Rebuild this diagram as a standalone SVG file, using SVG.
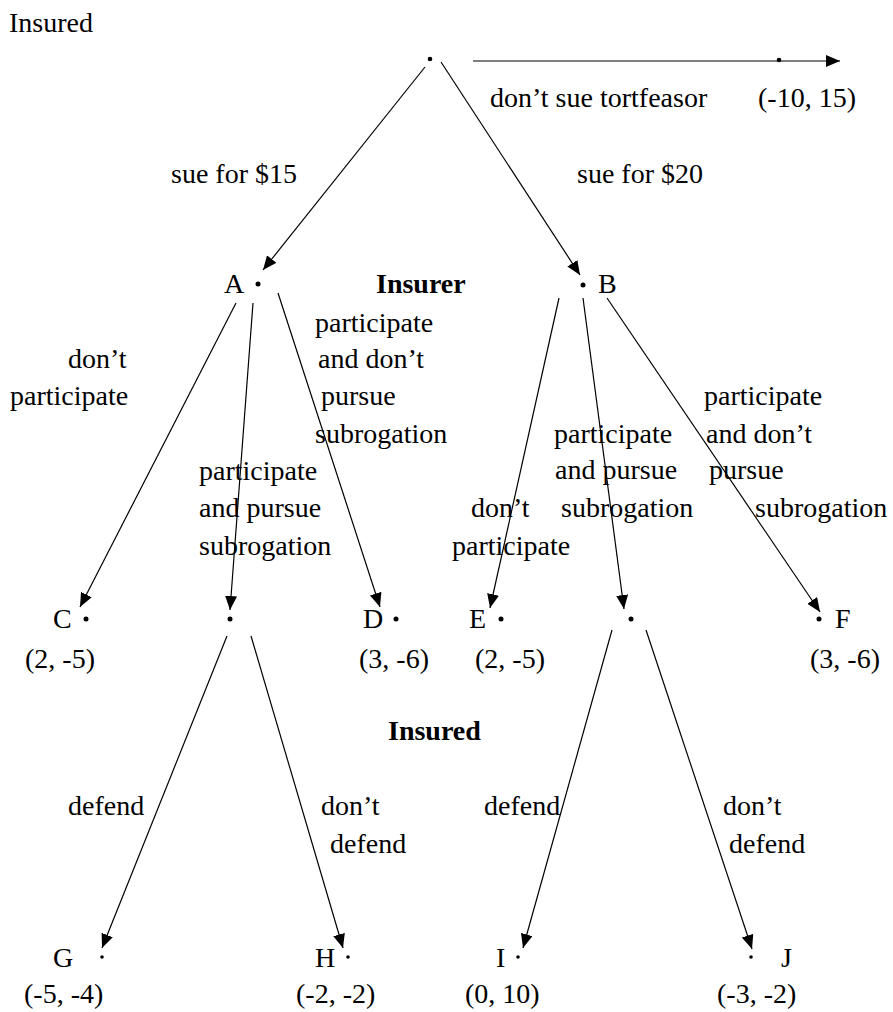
<svg xmlns="http://www.w3.org/2000/svg" width="893" height="1012" viewBox="0 0 893 1012">
<defs>
<marker id="ah" markerUnits="userSpaceOnUse" markerWidth="14" markerHeight="12" refX="14" refY="6" orient="auto" viewBox="0 0 14 12">
<path d="M0,0 L14,6 L0,12 z" fill="#000"/>
</marker>
</defs>
<rect width="893" height="1012" fill="#fff"/>
<text x="9" y="32" font-family="Liberation Serif" font-size="28">Insured</text>
<text x="376" y="293" font-family="Liberation Serif" font-size="28" font-weight="bold">Insurer</text>
<text x="388" y="740" font-family="Liberation Serif" font-size="28" font-weight="bold">Insured</text>
<g id="connectors" stroke="#000" stroke-width="1.2" fill="none" marker-end="url(#ah)">
<line x1="473" y1="61" x2="840" y2="61"/>
<line x1="425" y1="67" x2="263" y2="270"/>
<line x1="441" y1="62" x2="580" y2="275"/>
<line x1="236" y1="303" x2="80" y2="607"/>
<line x1="253" y1="303" x2="230" y2="610"/>
<line x1="278" y1="293" x2="380" y2="607"/>
<line x1="559" y1="298" x2="490" y2="608"/>
<line x1="583" y1="298" x2="624" y2="609"/>
<line x1="607" y1="298" x2="820" y2="612"/>
<line x1="227" y1="636" x2="102" y2="948"/>
<line x1="251" y1="636" x2="343" y2="948"/>
<line x1="612" y1="630" x2="523" y2="948"/>
<line x1="646" y1="630" x2="752" y2="949"/>
</g>
<g id="edge-labels" fill="#000">
<text x="490" y="107" font-family="Liberation Serif" font-size="28">don’t sue tortfeasor</text>
<text x="171" y="183" font-family="Liberation Serif" font-size="28">sue for $15</text>
<text x="577" y="183" font-family="Liberation Serif" font-size="28">sue for $20</text>
<text x="68" y="368" font-family="Liberation Serif" font-size="28">don’t</text>
<text x="10" y="405" font-family="Liberation Serif" font-size="28">participate</text>
<text x="315" y="332" font-family="Liberation Serif" font-size="28">participate</text>
<text x="318" y="368" font-family="Liberation Serif" font-size="28">and don’t</text>
<text x="321" y="405" font-family="Liberation Serif" font-size="28">pursue</text>
<text x="315" y="443" font-family="Liberation Serif" font-size="28">subrogation</text>
<text x="199" y="480" font-family="Liberation Serif" font-size="28">participate</text>
<text x="199" y="517" font-family="Liberation Serif" font-size="28">and pursue</text>
<text x="199" y="555" font-family="Liberation Serif" font-size="28">subrogation</text>
<text x="554" y="443" font-family="Liberation Serif" font-size="28">participate</text>
<text x="555" y="479" font-family="Liberation Serif" font-size="28">and pursue</text>
<text x="561" y="517" font-family="Liberation Serif" font-size="28">subrogation</text>
<text x="471" y="517" font-family="Liberation Serif" font-size="28">don’t</text>
<text x="452" y="555" font-family="Liberation Serif" font-size="28">participate</text>
<text x="704" y="405" font-family="Liberation Serif" font-size="28">participate</text>
<text x="706" y="443" font-family="Liberation Serif" font-size="28">and don’t</text>
<text x="709" y="479" font-family="Liberation Serif" font-size="28">pursue</text>
<text x="755" y="517" font-family="Liberation Serif" font-size="28">subrogation</text>
<text x="68" y="815" font-family="Liberation Serif" font-size="28">defend</text>
<text x="321" y="815" font-family="Liberation Serif" font-size="28">don’t</text>
<text x="330" y="853" font-family="Liberation Serif" font-size="28">defend</text>
<text x="484" y="815" font-family="Liberation Serif" font-size="28">defend</text>
<text x="723" y="815" font-family="Liberation Serif" font-size="28">don’t</text>
<text x="729" y="853" font-family="Liberation Serif" font-size="28">defend</text>
</g>
<g id="root"><circle cx="430" cy="59" r="2.3" fill="#000"/></g>
<g id="out"><circle cx="779" cy="60" r="2.3" fill="#000"/><text x="758" y="107" font-family="Liberation Serif" font-size="28">(-10, 15)</text></g>
<g id="A"><text x="224" y="293" font-family="Liberation Serif" font-size="28">A</text><circle cx="258" cy="284" r="2.5" fill="#000"/></g>
<g id="B"><circle cx="583" cy="285" r="2.5" fill="#000"/><text x="598" y="293" font-family="Liberation Serif" font-size="28">B</text></g>
<g id="C"><text x="53" y="628" font-family="Liberation Serif" font-size="28">C</text><circle cx="86" cy="619" r="2.5" fill="#000"/><text x="25" y="668" font-family="Liberation Serif" font-size="28">(2, -5)</text></g>
<g id="A2"><circle cx="230" cy="619" r="2.5" fill="#000"/></g>
<g id="D"><text x="363" y="628" font-family="Liberation Serif" font-size="28">D</text><circle cx="396" cy="619" r="2.5" fill="#000"/><text x="359" y="668" font-family="Liberation Serif" font-size="28">(3, -6)</text></g>
<g id="E"><text x="469" y="628" font-family="Liberation Serif" font-size="28">E</text><circle cx="501" cy="619" r="2.5" fill="#000"/><text x="475" y="668" font-family="Liberation Serif" font-size="28">(2, -5)</text></g>
<g id="B2"><circle cx="631" cy="619" r="2.5" fill="#000"/></g>
<g id="F"><circle cx="819" cy="619" r="2.5" fill="#000"/><text x="835" y="628" font-family="Liberation Serif" font-size="28">F</text><text x="810" y="668" font-family="Liberation Serif" font-size="28">(3, -6)</text></g>
<g id="G"><text x="53" y="967" font-family="Liberation Serif" font-size="28">G</text><circle cx="102" cy="957" r="1.8" fill="#000"/><text x="24" y="1003" font-family="Liberation Serif" font-size="28">(-5, -4)</text></g>
<g id="H"><text x="315" y="967" font-family="Liberation Serif" font-size="28">H</text><circle cx="348" cy="957" r="1.8" fill="#000"/><text x="296" y="1003" font-family="Liberation Serif" font-size="28">(-2, -2)</text></g>
<g id="I"><text x="496" y="967" font-family="Liberation Serif" font-size="28">I</text><circle cx="518" cy="957" r="1.8" fill="#000"/><text x="465" y="1003" font-family="Liberation Serif" font-size="28">(0, 10)</text></g>
<g id="J"><circle cx="751" cy="957" r="1.8" fill="#000"/><text x="781" y="967" font-family="Liberation Serif" font-size="28">J</text><text x="717" y="1003" font-family="Liberation Serif" font-size="28">(-3, -2)</text></g>
</svg>
